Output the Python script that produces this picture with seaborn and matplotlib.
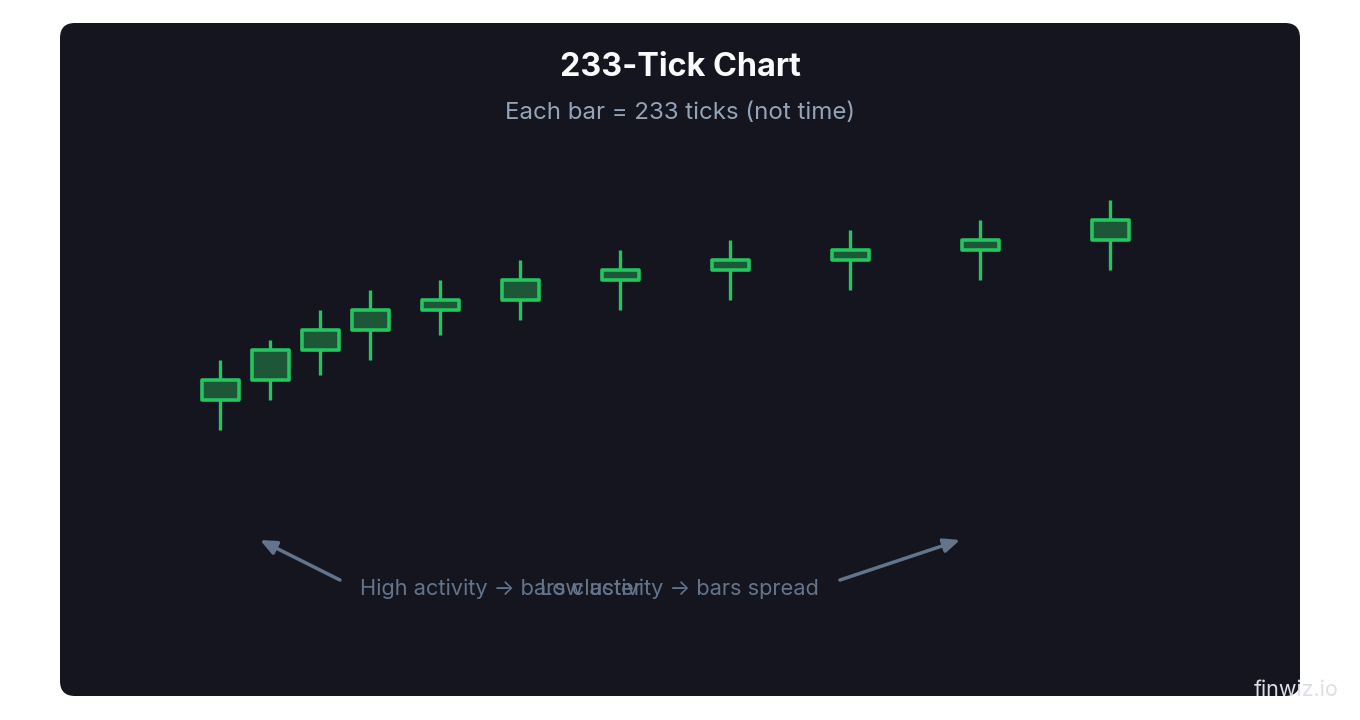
import matplotlib
matplotlib.use("Agg")
import matplotlib.pyplot as plt
from matplotlib.patches import FancyBboxPatch
import seaborn as sns
import pandas as pd

# elapsed time of each 233-tick bar (bars bunch up when activity is high)
bar_time = [0, 5, 10, 15, 22, 30, 40, 51, 63, 76, 89]
bar_open = [100, 102, 105, 107, 109, 110, 112, 113, 114, 115, 116]
bar_close = [102, 105, 107, 109, 110, 112, 113, 114, 115, 116, 118]
bar_high = [104, 106, 109, 111, 112, 114, 115, 116, 117, 118, 120]
bar_low = [97, 100, 102.5, 104, 106.5, 108, 109, 110, 111, 112, 113]

title = "233-Tick Chart"
subtitle = "Each bar = 233 ticks (not time)"
note_left = "High activity \u2192 bars cluster"
note_right = "Low activity \u2192 bars spread"

df = pd.DataFrame({"t": bar_time, "open": bar_open, "close": bar_close,
                   "high": bar_high, "low": bar_low})

sns.set_theme(style="dark")
plt.rcParams["font.family"] = ["Inter", "DejaVu Sans"]

green = "#22c55e"
body_fill = "#1e5638"
panel = "#14151f"
muted = "#64748b"

fig = plt.figure(figsize=(13.6, 7.2), dpi=100, facecolor="white")
ax = fig.add_axes([0, 0, 1, 1])
ax.set_facecolor("white")
ax.set_xlim(-22, 114)
ax.set_ylim(68, 140)
ax.axis("off")

ax.add_patch(FancyBboxPatch((-16, 70.4), 124, 67.3,
                            boxstyle="round,pad=0,rounding_size=1.5",
                            facecolor=panel, edgecolor="none", zorder=0))

# wicks
ax.vlines(df["t"], df["low"], df["high"], color=green, lw=2.4, zorder=2)
# bodies
ax.bar(df["t"], df["close"] - df["open"], bottom=df["open"], width=3.7,
       color=body_fill, edgecolor=green, linewidth=2.6, zorder=3,
       joinstyle="round")

fig.text(0.5, 0.906, title, ha="center", va="center", color="#f8fafc",
         fontsize=23.3, fontweight="bold")
fig.text(0.5, 0.843, subtitle, ha="center", va="center", color="#94a3b8",
         fontsize=17.3)

fig.text(0.2647, 0.182, note_left, ha="left", va="center", color=muted,
         fontsize=15.7)
fig.text(0.397, 0.182, note_right, ha="left", va="center", color=muted,
         fontsize=15.7)

arrow = dict(arrowstyle="-|>,head_length=0.8,head_width=0.35", color=muted,
             lw=2.5, shrinkA=0, shrinkB=0)
ax.annotate("", xy=(0.1912, 0.25), xytext=(0.25, 0.1944),
            xycoords="figure fraction", textcoords="figure fraction",
            arrowprops=arrow)
ax.annotate("", xy=(0.7059, 0.25), xytext=(0.6176, 0.1944),
            xycoords="figure fraction", textcoords="figure fraction",
            arrowprops=arrow)

fig.text(0.984, 0.042, "finwiz.io", ha="right", va="center",
         color="#dcdfe5", fontsize=15.5)

fig.savefig("out.png", dpi=100, facecolor="white")
